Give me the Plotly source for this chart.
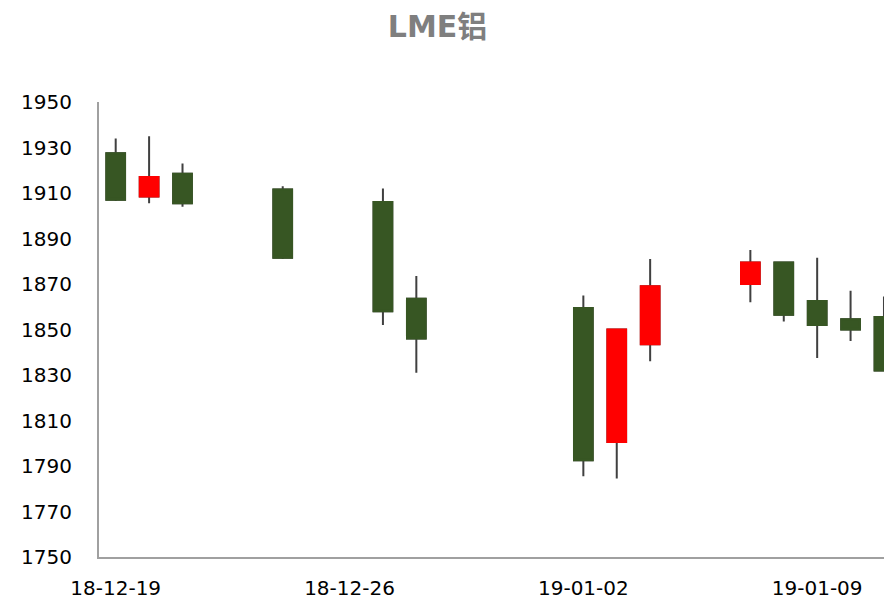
import plotly.graph_objects as go

dates = ["2018-12-19", "2018-12-20", "2018-12-21", "2018-12-24", "2018-12-27",
         "2018-12-28", "2019-01-02", "2019-01-03", "2019-01-04", "2019-01-07",
         "2019-01-08", "2019-01-09", "2019-01-10", "2019-01-11"]
open_ = [1927.5, 1908.5, 1918.5, 1911.5, 1906.0, 1863.5, 1859.5, 1800.5, 1843.5, 1870.0,
         1879.5, 1862.5, 1854.5, 1855.5]
high = [1934.0, 1935.0, 1923.0, 1913.0, 1912.0, 1873.5, 1865.0, 1850.0, 1881.0, 1885.0,
        1879.5, 1881.5, 1867.0, 1864.5]
low = [1906.5, 1905.5, 1904.0, 1881.0, 1852.0, 1831.0, 1785.5, 1784.5, 1836.0, 1862.0,
       1853.5, 1837.5, 1845.0, 1832.0]
close = [1907.0, 1917.0, 1905.5, 1881.5, 1858.0, 1846.0, 1792.5, 1850.0, 1869.0, 1879.5,
         1856.5, 1852.0, 1850.0, 1832.0]

UP = "#FF0000"
DOWN = "#375623"
WICK = "#404040"

body_hi = [max(o, c) for o, c in zip(open_, close)]
body_lo = [min(o, c) for o, c in zip(open_, close)]

fig = go.Figure()
# wicks
fig.add_trace(go.Candlestick(
    x=dates, open=open_, high=high, low=low, close=close,
    increasing=dict(line=dict(color=WICK, width=2), fillcolor=UP),
    decreasing=dict(line=dict(color=WICK, width=2), fillcolor=DOWN),
    whiskerwidth=0, showlegend=False, hoverinfo="skip"))
# bodies
fig.add_trace(go.Candlestick(
    x=dates, open=open_, high=body_hi, low=body_lo, close=close,
    increasing=dict(line=dict(color=UP, width=2), fillcolor=UP),
    decreasing=dict(line=dict(color=DOWN, width=2), fillcolor=DOWN),
    whiskerwidth=0, showlegend=False))

fig.update_layout(
    width=884, height=600, autosize=False,
    margin=dict(l=99, r=0, t=102, b=43, autoexpand=False),
    paper_bgcolor="white", plot_bgcolor="white",
    boxgap=0.2, boxgroupgap=0.3,
    title=dict(text="LME铝", x=0.495, xanchor="center", y=1 - 26 / 600, yanchor="middle",
               xref="container", yref="container",
               font=dict(family="DejaVu Sans, Noto Sans CJK SC", size=30, color="#7F7F7F",
                         weight="bold")),
    font=dict(family="DejaVu Sans, Noto Sans CJK SC", size=20, color="#000000"),
    showlegend=False,
)
fig.update_xaxes(
    type="date", range=["2018-12-18 12:00", "2019-01-11 00:01"],
    rangeslider=dict(visible=False), automargin=False,
    tickformat="%y-%m-%d", tick0="2018-12-19", dtick=7 * 86400000,
    showgrid=False, zeroline=False,
    showline=True, linecolor="#A0A0A0", linewidth=2,
    ticks="", ticklabelstandoff=12,
    tickfont=dict(size=20, color="#000000"),
)
fig.update_yaxes(
    range=[1750, 1950], dtick=20, tick0=1750, automargin=False,
    showgrid=False, zeroline=False,
    showline=True, linecolor="#A0A0A0", linewidth=2,
    ticks="", ticklabelstandoff=21,
    tickfont=dict(size=20, color="#000000"),
)

post = ("document.body.style.margin='0';document.body.style.overflow='hidden';"
        "var gd=document.getElementById('{plot_id}');"
        "gd.style.width='884px';gd.style.height='600px';"
        "Plotly.relayout(gd,{width:884,height:600});")

fig.write_html("out.html", config={"responsive": False, "displayModeBar": False},
               post_script=post)
